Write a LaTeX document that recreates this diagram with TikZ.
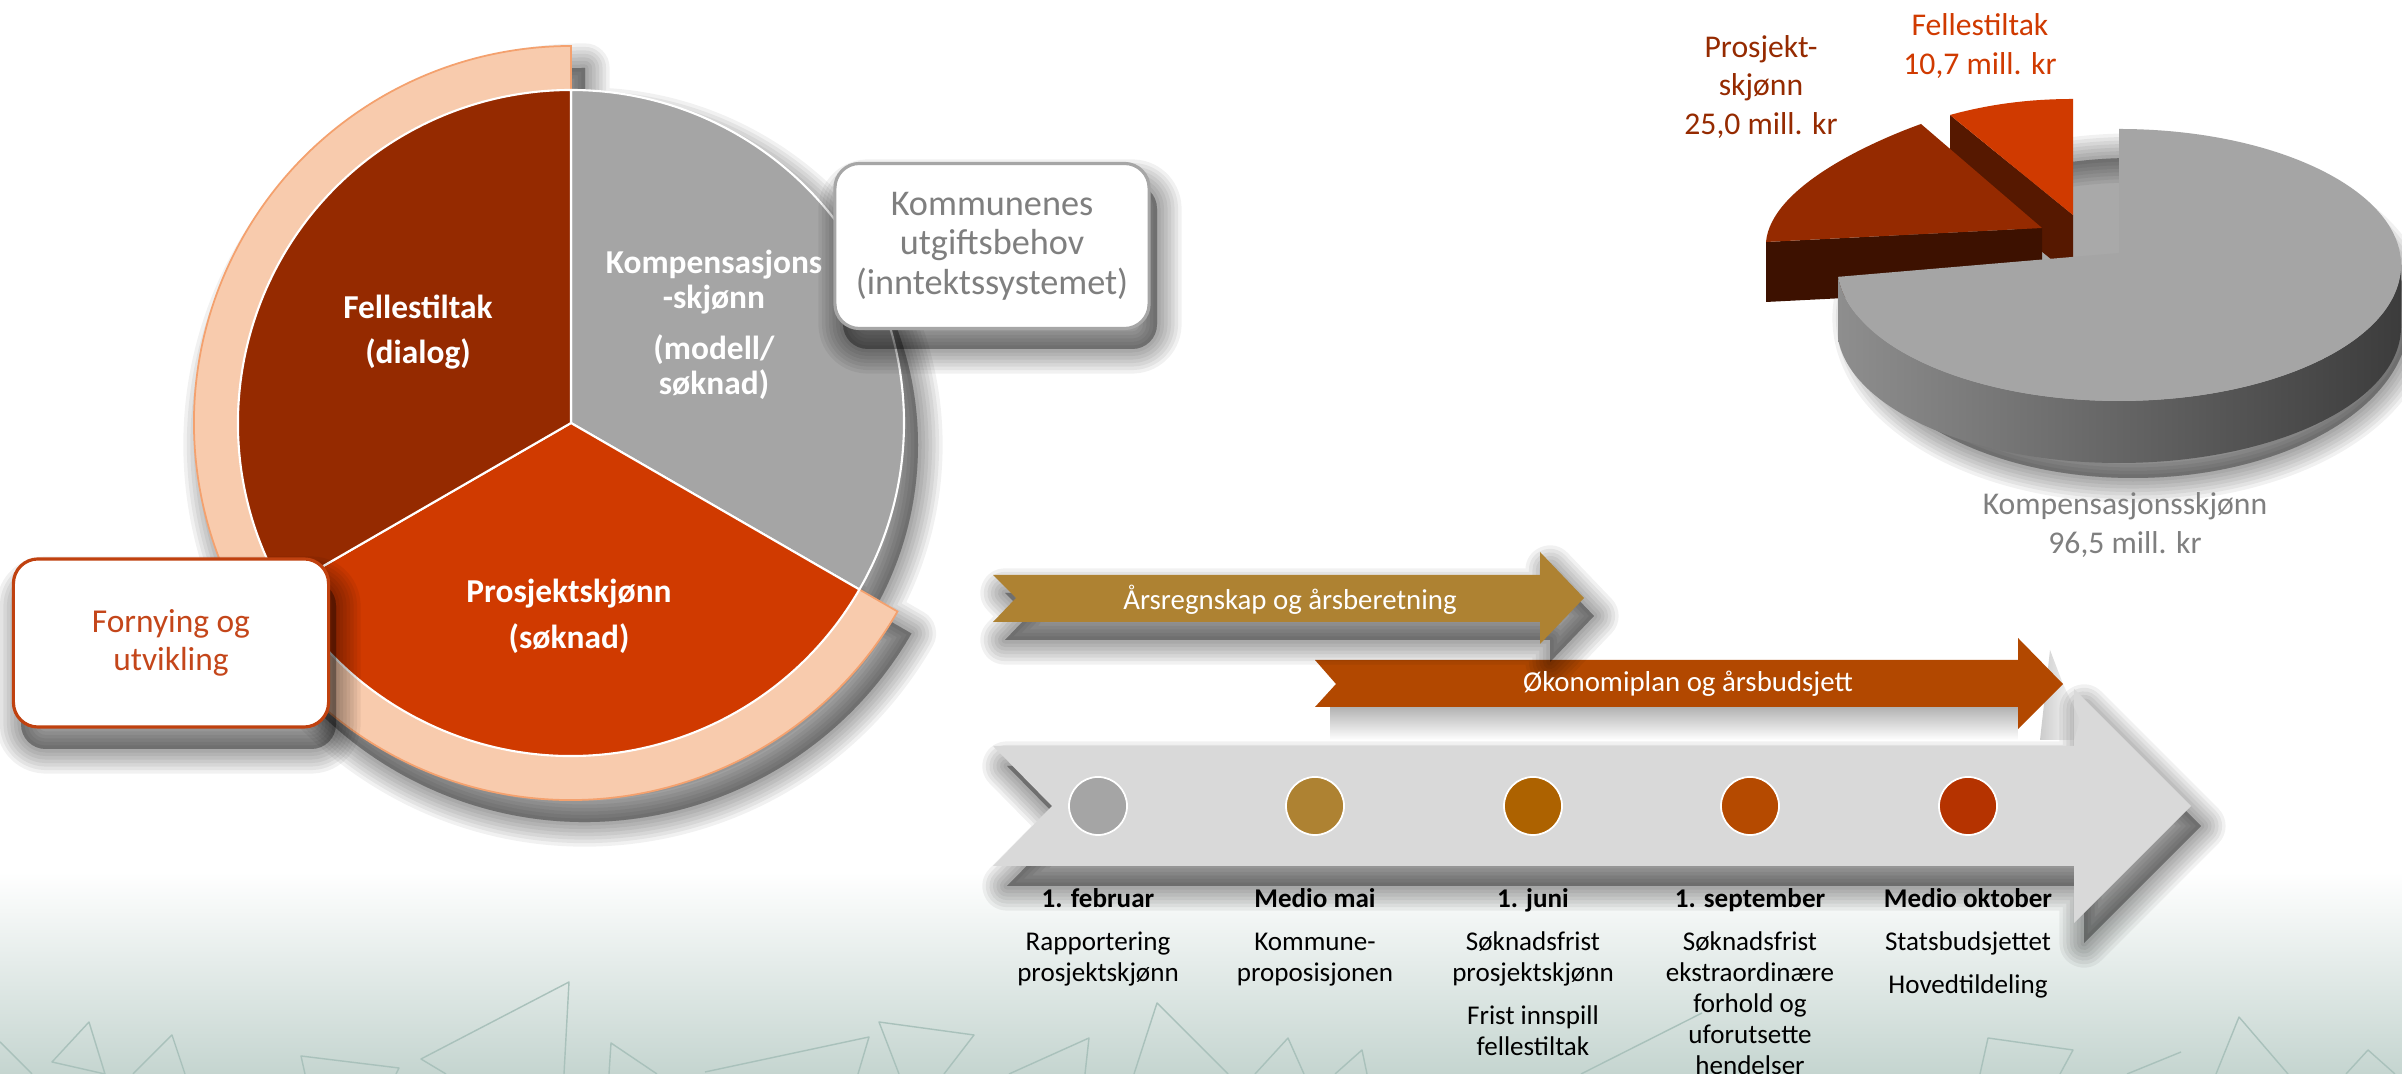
\documentclass[tikz,border=0pt]{standalone}
\usepackage{fontspec}
\setmainfont{Carlito}
\usetikzlibrary{fadings}

\definecolor{piegray}{HTML}{A5A5A5}
\definecolor{piedark}{HTML}{952A00}
\definecolor{pieorange}{HTML}{D03A00}
\definecolor{peach}{HTML}{F8CBAD}
\definecolor{peachedge}{HTML}{F4A16E}
\definecolor{boxgray}{HTML}{A6A6A6}
\definecolor{textgray}{HTML}{7F7F7F}
\definecolor{boxred}{HTML}{C0410F}
\definecolor{textred}{HTML}{C4461A}
\definecolor{gold}{HTML}{AE8232}
\definecolor{rust}{HTML}{B24800}
\definecolor{bandgray}{HTML}{D9D9D9}
\definecolor{dotjuni}{HTML}{AD6200}
\definecolor{dotsept}{HTML}{B54A00}
\definecolor{dotokt}{HTML}{B53300}
\definecolor{prosjside}{HTML}{3D1100}
\definecolor{fellesside}{HTML}{561800}
\definecolor{sidelight}{HTML}{8E8E8E}
\definecolor{sidedark}{HTML}{3C3C3C}
\definecolor{decoline}{HTML}{A9C1BB}
\definecolor{bgteal}{HTML}{C5D5D0}

% soft shadow: the same path filled in layers that grow outwards
\def\softshadow#1{%
  \filldraw[black, opacity=0.055, line width=2pt, line join=round] #1;
  \filldraw[black, opacity=0.055, line width=4pt, line join=round] #1;
  \filldraw[black, opacity=0.055, line width=6pt, line join=round] #1;
  \filldraw[black, opacity=0.055, line width=8pt, line join=round] #1;
  \filldraw[black, opacity=0.055, line width=10pt, line join=round] #1;
  \filldraw[black, opacity=0.055, line width=12pt, line join=round] #1;
  \filldraw[black, opacity=0.055, line width=14pt, line join=round] #1;}

\tikzset{
  pietext/.style={text=white, font=\bfseries\fontsize{9.5}{10}\selectfont, align=center},
  piesep/.style={draw=white, line width=0.6pt, line join=round},
  callout/.style={fill=white, rounded corners=7pt, line width=0.9pt, align=center, inner sep=0pt},
  bandtext/.style={text=white, font=\fontsize{8.2}{9}\selectfont},
  milestone/.style={circle, draw=white, line width=0.5pt, minimum size=0.58cm, inner sep=0pt},
  datetext/.style={font=\fontsize{7.7}{8.8}\selectfont, align=center, anchor=north, inner sep=0pt},
  chartlabel/.style={font=\fontsize{9}{11}\selectfont, align=center},
  deco/.style={draw=decoline, line width=0.4pt, line join=round}
}

\begin{document}
\begin{tikzpicture}[x=0.01cm, y=-0.01cm]
%%%%% START %%%%%
\useasboundingbox (0,0) rectangle (2402,1074);
\fill[white] (0,0) rectangle (2402,1074);
\shade[top color=white, bottom color=bgteal] (0,872) rectangle (2402,1074);

% background triangles
\draw[deco] (105,1074) -- (89,1022) -- (52,1062) -- cycle;
\draw[deco] (0,1042) -- (32,1074);
\draw[deco] (133,1074) -- (172,1035) -- (185,1074);
\draw[deco] (305,1074) -- (301,1056) -- (399,1068) -- (396,1074);
\draw[deco] (446,1074) -- (421,1059) -- (569,982) -- (564,1074);
\draw[deco] (609,1074) -- (611,1043) -- (657,1074);
\draw[deco] (705,1072) -- (869,1037) -- (858,1074);
\draw[deco] (899,1074) -- (879,1022) -- (974,1035) -- (944,1074);
\draw[deco] (1009,1074) -- (1089,1038) -- (1085,1074);
\draw[deco] (1134,1074) -- (1157,1003) -- (1228,1074);
\draw[deco] (1255,1074) -- (1288,1038) -- (1304,1074);
\draw[deco] (1335,1074) -- (1362,1050) -- (1367,1074);
\draw[deco] (1581,1074) -- (1702,1013);
\draw[deco] (1980,1074) -- (1988,1038) -- (2073,1050) -- (2060,1074);
\draw[deco] (2127,1074) -- (2181,1052);
\draw[deco] (2216,1074) -- (2239,1017) -- (2288,1074);
\draw[deco] (2346,1074) -- (2368,1050) -- (2395,1074);

% left pie
\coordinate (pc) at (571,423);
\softshadow{(585,445) circle (333) (585,445) -- ++(30:377) arc[start angle=30, end angle=270, radius=377] -- cycle}
\draw[fill=peach, draw=peachedge, line width=0.5pt] (pc) -- ++(30:377) arc[start angle=30, end angle=270, radius=377] -- cycle;
\filldraw[fill=piegray, piesep] (pc) -- ++(-90:333) arc[start angle=-90, end angle=30, radius=333] -- cycle;
\filldraw[fill=pieorange, piesep] (pc) -- ++(30:333) arc[start angle=30, end angle=150, radius=333] -- cycle;
\filldraw[fill=piedark, piesep] (pc) -- ++(150:333) arc[start angle=150, end angle=270, radius=333] -- cycle;

\node[pietext] (fellestiltak) at (418,332) {Fellestiltak\\[3pt](dialog)};
\node[pietext] (kompensasjon) at (714,325) {Kompensasjons\\-skjønn\\[4.5pt](modell/\\søknad)};
\node[pietext] (prosjekt) at (569,616) {Prosjektskjønn\\[3pt](søknad)};

\softshadow{[rounded corners=7pt] (843,184) rectangle (1157,349)}
\node[callout, draw=boxgray, text=textgray, minimum width=3.14cm, minimum height=1.65cm,
  font=\fontsize{10.3}{11.2}\selectfont] (kommunenes) at (992,246) {Kommunenes\\utgiftsbehov\\(inntektssystemet)};
\softshadow{[rounded corners=7pt] (21,581) rectangle (336,749)}
\node[callout, draw=boxred, text=textred, minimum width=3.15cm, minimum height=1.68cm,
  font=\fontsize{9.5}{10.8}\selectfont] (fornying) at (171,643) {Fornying og\\utvikling};

% 3D pie
\softshadow{(2133,318) ellipse [x radius=276, y radius=160]}
\fill[fellesside] (2073,215) -- (1950,115) -- (1950,177) -- (2073,277) -- cycle;
\fill[pieorange] (2073,215) -- (1950,115) .. controls (1990,104) and (2030,99) .. (2073,99) -- cycle;
\fill[prosjside] (2042,228) -- (1766,242) -- (1766,302) -- (2042,288) -- cycle;
\fill[piedark] (2042,228) -- (1766,242) .. controls (1771,187) and (1871,142) .. (1921,124) -- cycle;
\shade[left color=sidelight, right color=sidedark] (2401,265) arc[start angle=0, end angle=175, x radius=282, y radius=136]
  -- ++(0,62) arc[start angle=175, end angle=0, x radius=282, y radius=136] -- cycle;
\fill[piegray] (2119,253) -- (2119,129) arc[start angle=-90, end angle=175, x radius=282, y radius=136] -- cycle;

\node[chartlabel, text=piedark] (prosjektlabel) at (1761,87) {Prosjekt-\\skjønn\\25,0 mill. kr};
\node[chartlabel, text=pieorange] (felleslabel) at (1980,46) {Fellestiltak\\10,7 mill. kr};
\node[chartlabel, text=textgray] (kompensasjonlabel) at (2125,525) {Kompensasjonsskjønn\\96,5 mill. kr};

% timeline
\softshadow{(1007,766) -- (2084,766) -- (2084,709) -- (2201,826) -- (2084,943) -- (2084,886) -- (1007,886) -- (1066,826) -- cycle}
\fill[bandgray] (993,746) -- (2074,746) -- (2074,689) -- (2191,806) -- (2074,923) -- (2074,866) -- (993,866) -- (1052,806) -- cycle;
\fill[black, opacity=0.3, path fading=south] (1330,707) rectangle (2018,740);
\fill[black, opacity=0.2, path fading=east] (2050,650) -- (2063,684) -- (2080,720) -- (2074,740) -- (2040,740) -- cycle;
\fill[rust] (1315,660) -- (2018,660) -- (2018,638) -- (2063,684) -- (2018,729) -- (2018,707) -- (1315,707) -- (1336,684) -- cycle;
\softshadow{(1005,593) -- (1550,593) -- (1550,570) -- (1594,616) -- (1550,662) -- (1550,640) -- (1005,640) -- (1028,616) -- cycle}
\fill[gold] (993,575) -- (1540,575) -- (1540,552) -- (1584,598) -- (1540,644) -- (1540,622) -- (993,622) -- (1016,598) -- cycle;

\node[bandtext] (aarsregnskap) at (1290,600) {Årsregnskap og årsberetning};
\node[bandtext] (okonomiplan) at (1688,684) {Økonomiplan og årsbudsjett};

\node[milestone, fill=piegray] (febdot) at (1098,806) {};
\node[milestone, fill=gold] (maidot) at (1315,806) {};
\node[milestone, fill=dotjuni] (junidot) at (1533,806) {};
\node[milestone, fill=dotsept] (septdot) at (1750,806) {};
\node[milestone, fill=dotokt] (oktdot) at (1968,806) {};

\node[datetext] (febtext) at (1098,885) {\strut\textbf{1. februar}\\[3.4pt]Rapportering\\prosjektskjønn};
\node[datetext] (maitext) at (1315,885) {\strut\textbf{Medio mai}\\[3.4pt]Kommune-\\proposisjonen};
\node[datetext] (junitext) at (1533,885) {\strut\textbf{1. juni}\\[3.4pt]Søknadsfrist\\prosjektskjønn\\[3.4pt]Frist innspill\\fellestiltak};
\node[datetext] (septtext) at (1750,885) {\strut\textbf{1. september}\\[3.4pt]Søknadsfrist\\ekstraordinære\\forhold og\\uforutsette\\hendelser};
\node[datetext] (okttext) at (1968,885) {\strut\textbf{Medio oktober}\\[3.4pt]Statsbudsjettet\\[3.4pt]Hovedtildeling};
%%%%% END %%%%%
\end{tikzpicture}
\end{document}
